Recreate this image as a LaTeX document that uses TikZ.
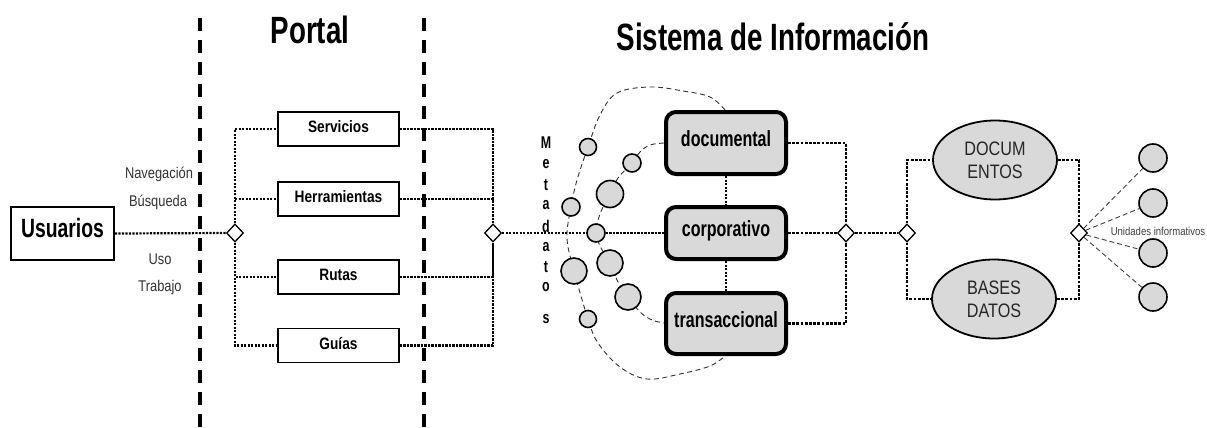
\documentclass[tikz,border=0pt]{standalone}
\usepackage{fontspec}
\newfontfamily\tfont{Liberation Sans}[FakeStretch=0.73]
\newfontfamily\mfont{Liberation Sans}[FakeStretch=0.83]
\usetikzlibrary{shapes.geometric}
\definecolor{boxgray}{HTML}{D9D9D9}
\definecolor{txtgray}{HTML}{333333}
\tikzset{
  sepline/.style={line width=4pt, dash pattern=on 13pt off 9pt},
  dotln/.style={line width=2.2pt, dash pattern=on 2.2pt off 1.3pt},
  dotlnB/.style={line width=2.8pt, dash pattern=on 2.8pt off 1.4pt},
  arcln/.style={line width=0.9pt, dash pattern=on 5pt off 3.5pt, black!80},
  raydash/.style={line width=0.9pt, dash pattern=on 5pt off 3pt, black!75},
  title/.style={font=\tfont\bfseries\fontsize{38}{40}\selectfont, inner sep=0pt},
  userbox/.style={draw, line width=1.8pt, minimum width=103pt, minimum height=53pt,
    inner sep=0pt, text height=0.72em, text depth=0pt,
    font=\tfont\bfseries\fontsize{26.5}{28}\selectfont},
  pbox/.style={draw, line width=1.8pt, fill=white, minimum width=121pt, minimum height=34pt,
    inner sep=0pt, text height=0.72em, text depth=0pt,
    font=\mfont\bfseries\fontsize{16.5}{18}\selectfont},
  sbox/.style={draw, line width=4pt, rounded corners=10pt, fill=boxgray, minimum width=120pt,
    inner sep=0pt, text height=0.72em, text depth=0pt,
    font=\tfont\bfseries\fontsize{22}{24}\selectfont},
  ovalnode/.style={draw, ellipse, line width=1.8pt, fill=boxgray, minimum width=124pt,
    minimum height=79pt, inner sep=0pt, align=center, text=black!85,
    font=\mfont\fontsize{19.5}{23}\selectfont},
  dia/.style={draw, diamond, line width=1.3pt, fill=white, minimum width=17pt,
    minimum height=18pt, inner sep=0pt},
  dot/.style={draw, circle, line width=1.6pt, fill=boxgray, inner sep=0pt, minimum size=#1},
  lbl/.style={text=txtgray, inner sep=0pt, text height=0.72em, text depth=0pt,
    font=\mfont\fontsize{15.5}{17}\selectfont},
  letter/.style={inner sep=0pt, font=\tfont\bfseries\fontsize{17}{18}\selectfont},
}
\begin{document}
\begin{tikzpicture}[x=1pt,y=-1pt]
\useasboundingbox (0,0) rectangle (1207,428);

% portal boundaries
\draw[sepline] (200,18) -- (200,428);
\draw[sepline] (424,18) -- (424,428);

% metadata rings
\draw[arcln] plot[smooth, tension=0.6] coordinates {
  (725,110) (710,97) (683,91) (650,87) (617,93) (600,115) (588,147)
  (577,180) (571,207) (567,238) (574,271) (588,319) (598,343) (620,367)
  (647,379) (680,374) (710,366) (725,356)};
\draw[arcln] plot[smooth, tension=0.6] coordinates {
  (664,143) (650,145) (640,152) (632,163) (618,178) (610,194) (600,214)
  (596,233) (602,250) (610,263) (618,282) (628,297) (640,312) (652,320) (664,323)};

% titles
\node[title] (tportal) at (310,30) {Portal};
\node[title] (tsis) at (773,37) {Sistema de Información};

% users and access labels
\node[userbox] (usr) at (62.5,233.5) {Usuarios};
\node[lbl] (nav) at (159,175) {Navegación};
\node[lbl] (bus) at (158,203) {Búsqueda};
\node[lbl] (uso) at (160,261) {Uso};
\node[lbl] (trab) at (160,288) {Trabajo};

% portal services
\node[pbox] (serv) at (338.5,129) {Servicios};
\node[pbox] (herr) at (338.5,199) {Herramientas};
\node[pbox] (rut) at (338.5,277) {Rutas};
\node[pbox] (gui) at (338.5,345.5) {Guías};

% junctions
\node[dia] (d1) at (235,233) {};
\node[dia] (d2) at (493,233) {};
\node[dia] (d3) at (846,233) {};
\node[dia] (d4) at (907,233) {};
\node[dia] (d5) at (1079,233) {};

% information subsystems
\node[sbox, minimum height=62pt] (doc) at (726,143) {documental};
\node[sbox, minimum height=52pt] (corp) at (726,233) {corporativo};
\node[sbox, minimum height=61pt] (trans) at (726,323.5) {transaccional};

% metadata
\foreach \ch/\yy [count=\k] in {M/143,e/164,t/185,a/205,d/226,a/247,t/267,o/287,s/319}
  \node[letter, anchor=center] (meta\k) at (546,\yy) {\ch};
\node[dot=17pt] (o1) at (588,147) {};
\node[dot=18pt] (o2) at (571,207) {};
\node[dot=26pt] (o3) at (574,271) {};
\node[dot=17pt] (o4) at (588,319) {};
\node[dot=18pt] (i1) at (632,163) {};
\node[dot=27pt] (i2) at (610,194) {};
\node[dot=18pt] (i3) at (596,233) {};
\node[dot=26pt] (i4) at (610,263) {};
\node[dot=26pt] (i5) at (628,297) {};

% repositories
\node[ovalnode] (docs) at (995,160) {DOCUM\\ENTOS};
\node[ovalnode] (bases) at (994,299) {BASES\\DATOS};

% information units
\node[dot=28pt] (u1) at (1153,158) {};
\node[dot=28pt] (u2) at (1153,203) {};
\node[dot=28pt] (u3) at (1153,253) {};
\node[dot=28pt] (u4) at (1153,297) {};
\node[text=black!75, inner sep=0pt, font=\mfont\fontsize{11.5}{13}\selectfont] (uinf) at (1158,231) {Unidades informativos};

% connectors: users to portal
\draw[dotln] (usr.east) -- (d1.west);
\draw[dotln] (d1.north) |- (serv.west);
\draw[dotln] (d1.north) |- (herr.west);
\draw[dotln] (d1.south) |- (rut.west);
\draw[dotln] (d1.south) |- (gui.west);
\draw[dotln] (serv.east) -| (d2.north);
\draw[dotln] (herr.east) -| (d2.north);
\draw[dotln] (rut.east) -| (d2.south);
\draw[dotln] (gui.east) -| (d2.south);

% connectors: portal to information system
\draw[dotln] (d2.east) -- (i3.west);
\draw[dotln] (i3.east) -- (corp.west);
\draw[dotln] (doc.south) -- (corp.north);
\draw[dotln] (corp.south) -- (trans.north);
\draw[dotlnB] (doc.east) -| (d3.north);
\draw[dotlnB] (corp.east) -- (d3.west);
\draw[dotlnB] (trans.east) -| (d3.south);
\draw[dotlnB] (d3.east) -- (d4.west);
\draw[dotlnB] (d4.north) |- (docs.west);
\draw[dotlnB] (d4.south) |- (bases.west);
\draw[dotlnB] (docs.east) -| (d5.north);
\draw[dotlnB] (bases.east) -| (d5.south);

% connectors: repositories to units
\draw[raydash] (d5) -- (u1);
\draw[raydash] (d5) -- (u2);
\draw[raydash] (d5) -- (u3);
\draw[raydash] (d5) -- (u4);
\end{tikzpicture}
\end{document}
